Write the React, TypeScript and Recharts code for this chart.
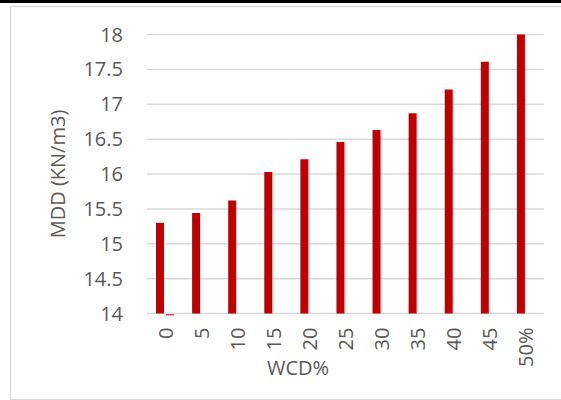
import React from 'react';
import { BarChart, Bar, XAxis, YAxis, CartesianGrid, Label } from 'recharts';

const FONT = '"Open Sans", "Noto Sans", sans-serif';
const TEXT = '#595959';
const RED = '#C00000';

const categories = ['0', '5', '10', '15', '20', '25', '30', '35', '40', '45', '50%'];
const mddValues = [15.3, 15.44, 15.62, 16.03, 16.21, 16.46, 16.63, 16.87, 17.21, 17.61, 18.0];
// second series: only a flat stub at the first category, sitting on the axis
const stubValues = [14, null, null, null, null, null, null, null, null, null, null];
const yTicks = [14, 14.5, 15, 15.5, 16, 16.5, 17, 17.5, 18];

const data = categories.map((c, i) => ({ wcd: c, mdd: mddValues[i], stub: stubValues[i] }));

const XTick = ({ x, y, payload }: any) => (
  <text
    x={x}
    y={y}
    transform={`rotate(-90 ${x} ${y})`}
    textAnchor="end"
    dominantBaseline="central"
    fill={TEXT}
    fontSize={20}
    fontFamily={FONT}
  >
    {payload.value}
  </text>
);

// a flat bar just under the base line
const StubShape = (p: any) => {
  if (p.value == null) return null;
  return <rect x={p.x} y={p.y + 0.5} width={p.width} height={1.5} fill="#d05050" />;
};

export default function App() {
  return (
    <div style={{ position: 'absolute', left: 0, top: 0, width: 561, height: 400, overflow: 'hidden', background: '#fff' }}>
      <div style={{ position: 'absolute', left: 0, top: 0, width: 561, height: 3, background: '#000' }} />
      <div
        style={{
          position: 'absolute',
          left: 10,
          top: 6,
          width: 570,
          height: 392,
          border: '1px solid #d9d9d9',
        }}
      />
      <div style={{ position: 'absolute', left: 0, top: 0 }}>
        <BarChart
          width={561}
          height={400}
          data={data}
          margin={{ top: 34.5, right: 17, left: 0, bottom: 26.5 }}
          barGap={2}
          barSize={8}
        >
          <CartesianGrid vertical={false} stroke="#d9d9d9" strokeWidth={1.5} />
          <XAxis
            dataKey="wcd"
            height={60}
            tickLine={false}
            axisLine={false}
            tickSize={0}
            tickMargin={14}
            interval={0}
            tick={<XTick />}
          >
            <Label
              content={({ viewBox }: any) => (
                <text
                  x={viewBox.x + 151}
                  y={viewBox.y + 61.5}
                  textAnchor="middle"
                  fill={TEXT}
                  fontSize={20}
                  fontFamily={FONT}
                >
                  WCD%
                </text>
              )}
            />
          </XAxis>
          <YAxis
            type="number"
            domain={[14, 18]}
            ticks={yTicks}
            width={147}
            tickLine={false}
            axisLine={false}
            tickSize={0}
            tickMargin={24}
            tick={{ fill: TEXT, fontSize: 20, fontFamily: FONT }}
          >
            <Label
              content={({ viewBox }: any) => {
                const cx = viewBox.x + 57.5;
                const cy = viewBox.y + viewBox.height / 2;
                return (
                  <text
                    x={cx}
                    y={cy}
                    transform={`rotate(-90 ${cx} ${cy})`}
                    textAnchor="middle"
                    dominantBaseline="central"
                    fill={TEXT}
                    fontSize={20}
                    fontFamily={FONT}
                  >
                    MDD (KN/m3)
                  </text>
                );
              }}
            />
          </YAxis>
          <Bar dataKey="mdd" fill={RED} isAnimationActive={false} />
          <Bar dataKey="stub" fill={RED} shape={<StubShape />} isAnimationActive={false} />
        </BarChart>
      </div>
    </div>
  );
}
